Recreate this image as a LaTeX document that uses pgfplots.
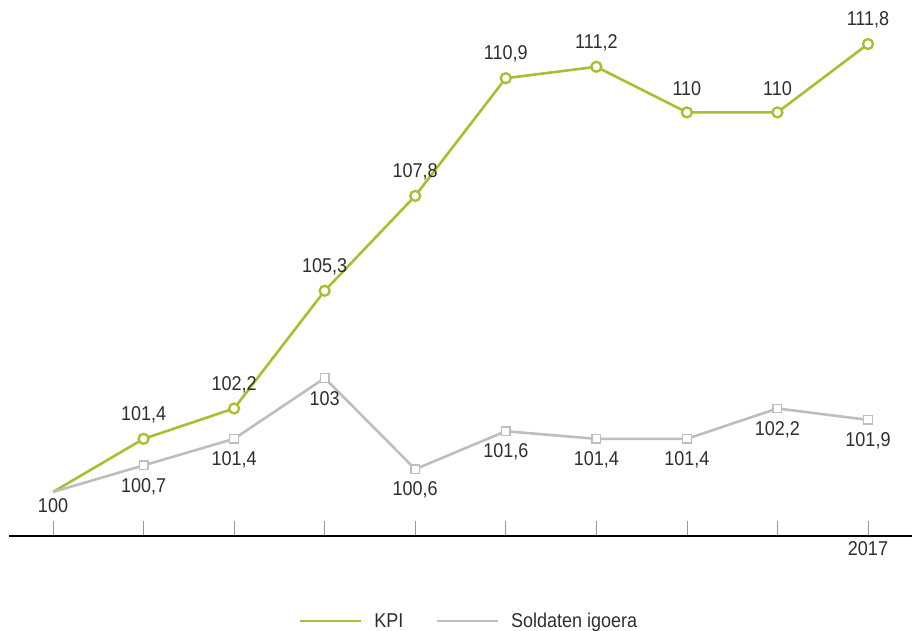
\documentclass[border=0pt]{standalone}
\usepackage{fontspec}
\setmainfont{Liberation Sans}[FakeStretch=0.9]
\usepackage{pgfplots}
\pgfplotsset{compat=1.18}
\definecolor{kpi}{HTML}{A9BF2F}
\definecolor{sold}{HTML}{BEBEC0}
\definecolor{txt}{HTML}{2E2E2E}
\newcommand{\lf}{\fontsize{20}{22}\selectfont}
\begin{document}
\begin{tikzpicture}[x=1pt,y=1pt]
\useasboundingbox (0,0) rectangle (912,630);
\begin{axis}[
  at={(9pt,94pt)}, anchor=south west,
  scale only axis, width=903pt, height=536pt,
  xmin=-0.486, xmax=9.486, ymin=98.84, ymax=112.96,
  axis x line*=bottom, axis y line=none,
  x axis line style={black, line width=1.3pt, -},
  xtick={0,...,9}, xticklabels={,,,,,,,,,2017},
  tick align=inside, major tick length=15pt,
  xtick style={sold!80!black, line width=0.6pt},
  ytick=\empty,
  every tick label/.append style={font=\lf, text=txt},
  xticklabel style={yshift=-2pt},
  clip=false,
  nodes near coords,
  point meta=explicit symbolic,
  legend style={at={(460pt,-85pt)}, anchor=center, draw=none, fill=none,
    legend columns=2, font=\lf, text=txt,
    /tikz/every odd column/.append style={column sep=10pt},
    /tikz/every even column/.append style={column sep=30pt}},
  legend image code/.code={\draw[#1] (0pt,0pt) -- (61pt,0pt);},
]
\addplot[kpi, line width=2.6pt, mark=*, mark size=5pt, mark indices={2,...,10},
  mark options={fill=white, line width=2.3pt},
  every node near coord/.append style={anchor=center, yshift=24pt, text=txt, font=\lf}]
  table[meta=l] {
x y l
0 100 {}
1 101.4 101,4
2 102.2 102,2
3 105.3 105,3
4 107.8 107,8
5 110.9 110,9
6 111.2 111,2
7 110 110
8 110 110
9 111.8 111,8
};
\addlegendentry{KPI}
\addplot[sold, line width=2.6pt, mark=square*, mark size=4.3pt, mark indices={2,...,10},
  mark options={fill=white, line width=1.3pt},
  every node near coord/.append style={anchor=center, yshift=-21pt, text=txt, font=\lf}]
  table[meta=l] {
x y l
0 100 {}
1 100.7 100,7
2 101.4 101,4
3 103 103
4 100.6 100,6
5 101.6 101,6
6 101.4 101,4
7 101.4 101,4
8 102.2 102,2
9 101.9 101,9
};
\addlegendentry{Soldaten igoera}
\node[text=txt, font=\lf] at (axis cs:0,100) [yshift=-14pt] {100};
\end{axis}
\end{tikzpicture}
\end{document}
